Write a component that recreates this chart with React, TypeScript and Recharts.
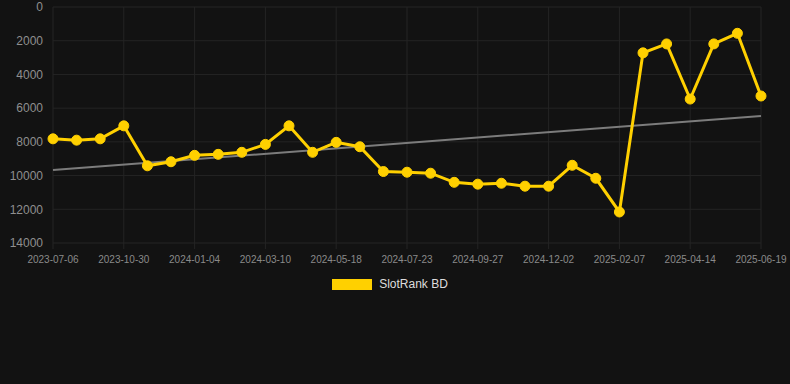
import React from 'react';
import { LineChart, Line, XAxis, YAxis, CartesianGrid, Legend, ReferenceLine } from 'recharts';

const dates: string[] = [
  '2023-07-06', '2023-08-14', '2023-09-21', '2023-10-30', '2023-11-21', '2023-12-13',
  '2024-01-04', '2024-01-26', '2024-02-17', '2024-03-10', '2024-04-01', '2024-04-25',
  '2024-05-18', '2024-06-09', '2024-07-01', '2024-07-23', '2024-08-14', '2024-09-05',
  '2024-09-27', '2024-10-19', '2024-11-10', '2024-12-02', '2024-12-24', '2025-01-16',
  '2025-02-07', '2025-03-01', '2025-03-23', '2025-04-14', '2025-05-06', '2025-05-28',
  '2025-06-19',
];

const ranks: number[] = [
  7820, 7900, 7820, 7050, 9420, 9180, 8800, 8740, 8620, 8150, 7050,
  8620, 8030, 8290, 9760, 9800, 9860, 10400, 10510, 10455, 10630,
  10630, 9390, 10160, 12160, 2720, 2190, 5460, 2190, 1560, 5280,
];

const xTicks: string[] = [
  '2023-07-06', '2023-10-30', '2024-01-04', '2024-03-10', '2024-05-18', '2024-07-23',
  '2024-09-27', '2024-12-02', '2025-02-07', '2025-04-14', '2025-06-19',
];

const yTicks: number[] = [0, 2000, 4000, 6000, 8000, 10000, 12000, 14000];

const trendStart = 9670;
const trendEnd = 6460;

const seriesName = 'SlotRank BD';

const data = dates.map((d, i) => ({ date: d, rank: ranks[i] }));

const FONT = '"Liberation Sans", Arial, sans-serif';

export default function App() {
  return (
    <div style={{ position: 'absolute', left: 0, top: 0, width: 790, height: 384, background: '#121212' }}>
      <LineChart
        width={790}
        height={384}
        data={data}
        margin={{ top: -7, right: 29, bottom: 111, left: 8 }}
        style={{ fontFamily: FONT }}
      >
        <CartesianGrid stroke="#242424" strokeWidth={1} />
        <XAxis
          dataKey="date"
          ticks={xTicks}
          interval={0}
          tick={{ fill: '#8a8a8a', fontSize: 10, fontFamily: FONT }}
          axisLine={false}
          tickLine={{ stroke: '#242424' }}
          tickSize={6}
          tickMargin={7}
          height={30}
        />
        <YAxis
          reversed
          domain={[0, 14000]}
          ticks={yTicks}
          interval={0}
          width={45}
          tick={{ fill: '#8f8f8f', fontSize: 12, fontFamily: FONT }}
          axisLine={false}
          tickLine={false}
          tickSize={8}
          tickMargin={2}
        />
        <ReferenceLine
          segment={[{ x: dates[0], y: trendStart }, { x: dates[dates.length - 1], y: trendEnd }]}
          stroke="#7c7c7c"
          strokeWidth={2}
          ifOverflow="visible"
        />
        <Line
          type="linear"
          dataKey="rank"
          name={seriesName}
          stroke="#FFD000"
          strokeWidth={3}
          dot={{ r: 5, fill: '#FFD000', stroke: '#FFD000', strokeWidth: 1 }}
          isAnimationActive={false}
        />
        <Legend
          verticalAlign="top"
          align="center"
          iconType="rect"
          wrapperStyle={{ position: 'absolute', top: 277, left: 0, width: 790 }}
          content={() => (
            <div style={{ display: 'flex', justifyContent: 'center', alignItems: 'center', fontFamily: FONT, paddingRight: 10 }}>
              <span style={{ display: 'inline-block', width: 40, height: 11, background: '#FFD000', marginRight: 7 }} />
              <span style={{ color: '#dddddd', fontSize: 12 }}>{seriesName}</span>
            </div>
          )}
        />
      </LineChart>
    </div>
  );
}
